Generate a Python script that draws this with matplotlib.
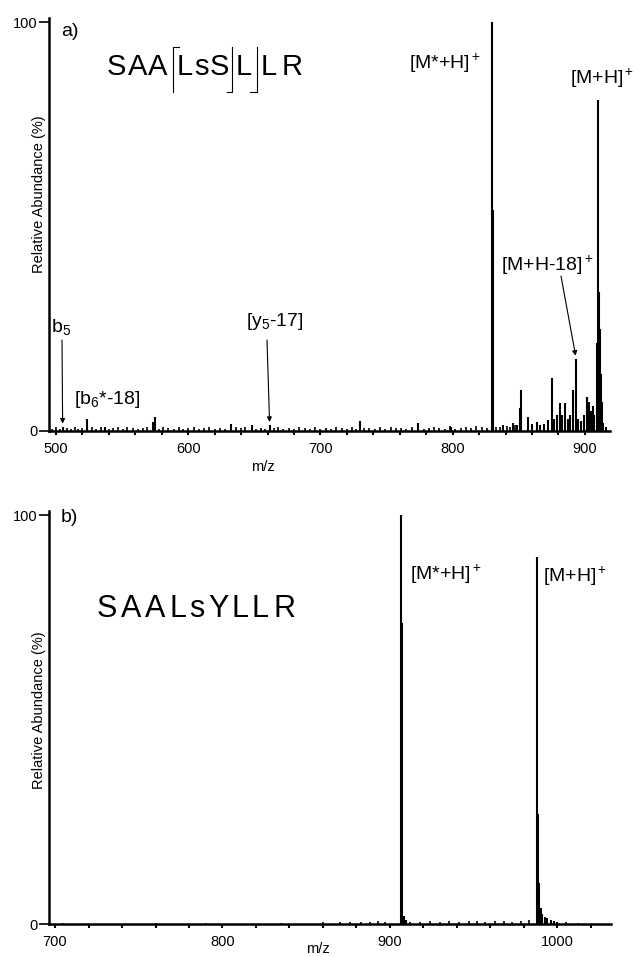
import matplotlib
matplotlib.use("Agg")
import matplotlib.pyplot as plt
from matplotlib.lines import Line2D
from matplotlib.ticker import MultipleLocator

plt.rcParams["font.family"] = ["Liberation Sans", "DejaVu Sans"]
plt.rcParams["mathtext.fontset"] = "custom"
plt.rcParams["mathtext.rm"] = "Liberation Sans"
plt.rcParams["mathtext.it"] = "Liberation Sans:italic"
plt.rcParams["mathtext.default"] = "regular"

W, H = 637, 957

# panel a) SAA[LsS]L]LR  -- peaks (m/z, relative abundance %)
a_peak_mz = [505, 523.5, 537, 573, 575, 632, 648, 661.5, 730, 774, 799,
             829.9, 830.6, 838, 846, 849, 851, 852, 857, 860, 864,
             866, 869, 872, 875, 877, 879, 881, 883, 885, 887,
             889, 891, 893, 895, 897, 899, 901.5, 903, 905, 906,
             907, 909, 910, 910.7, 911.3, 912, 913, 914, 916]
a_peak_int = [1.0, 3.0, 1.0, 2.2, 3.4, 1.7, 1.5, 1.4, 2.4, 2.0, 1.1,
              100, 54, 1.5, 2.0, 1.5, 5.6, 10, 3.5, 1.8, 2.2,
              1.5, 1.8, 2.7, 13, 3.0, 4.0, 6.8, 4.0, 6.8, 3.0,
              4.0, 10, 17.6, 3.0, 2.5, 4.0, 8.3, 7.0, 5.0, 6.0,
              4.0, 21.5, 81, 34, 25, 14, 7.0, 2.0, 1.0]

a_noise_mz = [497, 500, 503, 508, 511, 514, 517, 520, 527, 530,
              534, 540, 543, 547, 551, 554, 558, 562, 566, 569,
              578, 581, 585, 589, 593, 596, 600, 604, 608, 612,
              616, 620, 624, 628, 636, 640, 643, 651, 655, 658,
              665, 668, 672, 676, 680, 684, 688, 692, 696, 700,
              704, 708, 712, 716, 720, 724, 727, 733, 737, 741,
              745, 749, 753, 757, 761, 765, 769, 778, 782, 786,
              790, 794, 798, 802, 806, 810, 814, 818, 822, 826,
              833, 836, 841, 843, 847]
a_noise_int = [0.6, 0.9, 0.5, 0.8, 0.6, 1.0, 0.5, 0.7, 0.9, 0.6,
               1.1, 0.5, 0.8, 0.9, 0.6, 1.0, 0.7, 0.5, 0.8, 0.9,
               0.6, 1.0, 0.7, 0.5, 0.9, 0.6, 0.8, 1.0, 0.5, 0.7,
               0.9, 0.6, 0.8, 0.5, 0.9, 0.7, 1.0, 0.6, 0.8, 0.5,
               0.7, 0.9, 0.6, 0.8, 0.5, 1.0, 0.7, 0.6, 0.9, 0.5,
               0.8, 0.6, 1.0, 0.7, 0.5, 0.9, 0.6, 0.8, 0.7, 0.5,
               0.9, 0.6, 1.0, 0.7, 0.8, 0.5, 0.9, 0.6, 0.8, 1.1,
               0.7, 0.5, 1.2, 0.6, 0.8, 1.0, 0.7, 1.2, 0.9, 0.8,
               1.1, 0.9, 1.3, 1.0, 1.4]

# panel b) SAALsYLLR
b_peak_mz = [906.6, 907.3, 908.2, 909.5, 988.0, 988.7, 989.3, 990.0,
             991.0, 992.5, 994.0, 996.0, 998.0, 1000.0]
b_peak_int = [100, 73.6, 2.0, 1.0, 89.7, 27, 10, 4.0,
              2.5, 1.8, 1.4, 1.1, 0.8, 0.5]

b_noise_mz = [705, 760, 790, 835, 860, 870, 876, 883, 888, 893,
              897, 912, 918, 924, 930, 935, 941, 947, 952, 957,
              963, 968, 973, 978, 983, 1005, 1012]
b_noise_int = [0.3, 0.2, 0.3, 0.3, 0.4, 0.5, 0.4, 0.6, 0.5, 0.7,
               0.5, 0.6, 0.5, 0.7, 0.6, 0.8, 0.6, 0.7, 0.8, 0.6,
               0.7, 0.8, 0.6, 0.7, 0.9, 0.4, 0.3]

fig = plt.figure(figsize=(W / 100, H / 100), dpi=100)


def fpx(x, y):
    # pixel position measured from the top-left -> figure fraction
    return x / W, 1 - y / H


def setup(ax, xlim, ylab_y, xlab_x, xlab_y):
    ax.set_xlim(*xlim)
    ax.set_ylim(0, 101)
    for s in ("top", "right"):
        ax.spines[s].set_visible(False)
    for s in ("left", "bottom"):
        ax.spines[s].set_linewidth(1.8)
    ax.set_yticks([0, 100])
    ax.xaxis.set_major_locator(MultipleLocator(100))
    ax.xaxis.set_minor_locator(MultipleLocator(20))
    ax.tick_params(axis="x", which="both", length=3, width=1.5, labelsize=10.5, pad=5)
    ax.tick_params(axis="y", length=7, width=1.2, labelsize=10.5, pad=1)
    ax.set_xlabel("m/z", fontsize=10.5)
    ax.xaxis.set_label_coords(xlab_x, xlab_y)
    ax.set_ylabel("Relative Abundance (%)", fontsize=10.5)
    ax.yaxis.set_label_coords(-0.006, ylab_y)


def arrow(ax, tail, head):
    ax.annotate("", xy=head, xycoords="data",
                xytext=(tail[0], H - tail[1]), textcoords="figure pixels",
                arrowprops=dict(arrowstyle="-|>", color="k", lw=0.8,
                                mutation_scale=7, shrinkA=0, shrinkB=0))


def peak_top(mzs, ints, mz):
    return mz, ints[mzs.index(mz)] + 0.8


# ---- panel a
axa = fig.add_axes([49 / W, 1 - 431 / H, 561 / W, 413 / H])
axa.vlines(a_noise_mz, 0, a_noise_int, color="k", lw=1.2)
axa.vlines(a_peak_mz, 0, a_peak_int, color="k", lw=1.5)
setup(axa, (494.7, 919), 0.574, 0.381, -0.07)

fig.text(*fpx(70, 32), "a)", fontsize=14, ha="center", va="center")
for ch, x in zip("SAALsSLLR", [107, 127.5, 148, 177, 194, 209.5, 236, 261, 282]):
    fig.text(*fpx(x, 75), ch, fontsize=21, ha="left", va="baseline")
for xs, ys in [([179, 173, 173], [47, 47, 92]),
               ([232, 232, 227], [47, 92, 92]),
               ([257, 257, 250], [47, 92, 92])]:
    fig.add_artist(Line2D([x / W for x in xs], [1 - y / H for y in ys],
                          color="k", lw=0.8))

fig.text(*fpx(481, 63), "[M*+H]$^+$", fontsize=14, ha="right", va="center")
fig.text(*fpx(602, 78), "[M+H]$^+$", fontsize=14, ha="center", va="center")
fig.text(*fpx(547, 265), "[M+H-18]$^+$", fontsize=14, ha="center", va="center")
fig.text(*fpx(61, 327), "b$_5$", fontsize=14, ha="center", va="center")
fig.text(*fpx(107, 400), "[b$_6$*-18]", fontsize=14, ha="center", va="center")
fig.text(*fpx(275, 322), "[y$_5$-17]", fontsize=14, ha="center", va="center")
arrow(axa, (62, 340), peak_top(a_peak_mz, a_peak_int, 505))
arrow(axa, (267, 340), peak_top(a_peak_mz, a_peak_int, 661.5))
arrow(axa, (561, 276), peak_top(a_peak_mz, a_peak_int, 893))

# ---- panel b
axb = fig.add_axes([49 / W, 1 - 924 / H, 562 / W, 413 / H])
axb.vlines(b_noise_mz, 0, b_noise_int, color="k", lw=1.2)
axb.vlines(b_peak_mz, 0, b_peak_int, color="k", lw=1.5)
setup(axb, (696.4, 1032), 0.518, 0.479, -0.043)

fig.text(*fpx(69, 518), "b)", fontsize=14, ha="center", va="center")
for ch, x in zip("SAALsYLLR", [97, 121, 145, 169, 189, 208, 232, 252, 273]):
    fig.text(*fpx(x, 617), ch, fontsize=22, ha="left", va="baseline")

fig.text(*fpx(410, 574), "[M*+H]$^+$", fontsize=14, ha="left", va="center")
fig.text(*fpx(543, 576), "[M+H]$^+$", fontsize=14, ha="left", va="center")

fig.savefig("out.png", dpi=100)
